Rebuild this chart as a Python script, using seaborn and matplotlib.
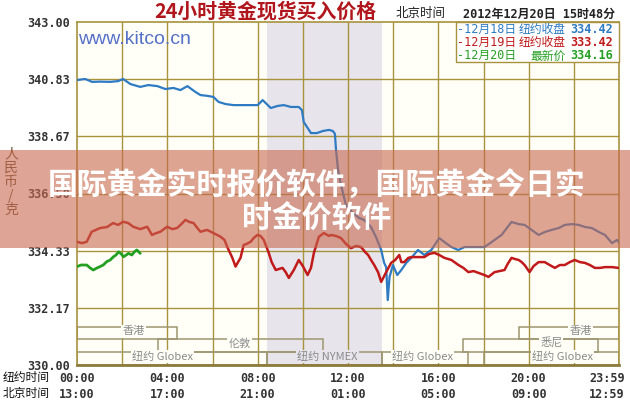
import matplotlib
matplotlib.use("Agg")
import matplotlib.pyplot as plt
from matplotlib.patches import Rectangle
import seaborn as sns

# ---------------- data ----------------
# hours (New York time) and prices (RMB / gram)
blue_hours = [0, 0.36, 0.67, 1.02, 1.47, 1.82, 2.04, 2.36, 2.8, 3.16, 3.56, 3.91, 4.27, 4.58, 4.89,
              5.24, 5.47, 5.78, 6.04, 6.27, 6.58, 6.93, 7.47, 8.0, 8.22, 8.4, 8.58, 8.89, 9.16, 9.47,
              9.82, 9.96, 10.04, 10.36, 10.62, 10.89, 11.16, 11.33, 11.42, 11.47, 11.56, 11.69, 11.91,
              12.22, 12.49, 12.71, 13.02, 13.24, 13.47, 13.6, 13.69, 13.76, 13.84, 13.99, 14.18, 14.36,
              14.58, 14.8, 15.1, 15.38, 15.69, 16.04, 16.27, 16.58, 16.88, 17.16, 18.04, 18.36, 18.8,
              19.24, 19.56, 19.82, 20.13, 20.44, 20.71, 21.02, 21.33, 21.6, 21.91, 22.22, 22.49, 22.8,
              23.11, 23.38, 23.69, 23.91, 23.98]
blue_values = [340.80, 340.84, 340.73, 340.74, 340.73, 340.76, 340.84, 340.65, 340.54, 340.61, 340.57,
               340.46, 340.50, 340.42, 340.57, 340.35, 340.23, 340.20, 340.16, 339.97, 339.89, 339.85,
               339.85, 339.85, 340.04, 339.89, 339.74, 339.82, 339.85, 339.78, 339.78, 339.66, 339.21,
               338.79, 338.79, 338.87, 338.91, 338.87, 338.76, 338.15, 337.39, 336.82, 336.06, 335.76,
               335.57, 335.50, 335.23, 334.85, 334.36, 333.87, 333.71, 332.46, 333.34, 333.79, 333.41,
               333.60, 333.87, 334.06, 334.36, 334.17, 334.36, 334.81, 334.66, 334.47, 334.36, 334.47,
               334.47, 334.66, 334.93, 335.42, 335.34, 335.31, 335.12, 334.93, 335.04, 335.12, 335.19,
               335.31, 335.34, 335.31, 335.23, 335.19, 335.04, 334.93, 334.62, 334.74, 334.66]

red_hours = [0, 0.22, 0.43, 0.65, 1.02, 1.33, 1.6, 1.82, 2.04, 2.27, 2.49, 2.8, 3.11, 3.32, 3.51, 3.69,
             3.99, 4.22, 4.43, 4.62, 4.8, 4.98, 5.16, 5.33, 5.47, 5.76, 6.04, 6.36, 6.53, 6.65, 6.88,
             7.02, 7.11, 7.24, 7.38, 7.51, 7.69, 7.82, 7.99, 8.13, 8.27, 8.49, 8.62, 8.8, 9.1, 9.24,
             9.38, 9.6, 9.82, 10.0, 10.21, 10.36, 10.49, 10.71, 10.93, 11.16, 11.24, 11.47, 11.69,
             11.91, 12.13, 12.36, 12.58, 12.76, 12.89, 13.02, 13.16, 13.33, 13.47, 13.6, 13.69, 13.91,
             14.09, 14.27, 14.36, 14.49, 14.67, 14.8, 15.07, 15.38, 15.6, 15.82, 16.04, 16.27, 16.58,
             16.89, 17.11, 17.33, 17.56, 17.78, 18.04, 18.22, 18.49, 18.71, 18.93, 19.07, 19.24, 19.38,
             19.56, 19.69, 19.82, 20.04, 20.22, 20.44, 20.71, 20.93, 21.16, 21.38, 21.6, 21.82, 22.04,
             22.27, 22.49, 22.71, 22.93, 23.16, 23.38, 23.69, 23.98]
red_values = [334.67, 334.62, 334.67, 335.05, 335.19, 335.23, 335.38, 335.31, 335.43, 335.38, 335.24,
              335.15, 335.24, 334.93, 335.00, 335.05, 335.24, 335.15, 335.19, 335.34, 335.50, 335.42,
              335.38, 335.19, 335.05, 335.12, 335.00, 334.86, 334.74, 334.48, 334.06, 333.73, 333.87,
              334.06, 334.55, 334.59, 334.67, 334.81, 334.93, 334.89, 334.74, 334.25, 333.90, 333.60,
              333.68, 333.52, 333.30, 333.60, 333.98, 333.75, 333.41, 333.68, 334.25, 334.86, 335.00,
              334.89, 334.93, 334.89, 334.81, 334.59, 334.43, 334.51, 334.47, 334.28, 334.17, 333.98,
              333.79, 333.52, 333.15, 333.37, 333.52, 333.87, 333.98, 334.17, 333.90, 333.90, 334.06,
              334.09, 334.09, 334.09, 334.21, 334.25, 334.17, 334.06, 333.98, 333.79, 333.68, 333.52,
              333.56, 333.49, 333.41, 333.34, 333.52, 333.56, 333.60, 333.83, 334.06, 334.02, 333.98,
              333.90, 333.79, 333.52, 333.75, 333.90, 333.90, 333.79, 333.68, 333.79, 333.79, 333.90,
              333.98, 333.90, 333.87, 333.79, 333.68, 333.68, 333.71, 333.71, 333.68]

green_hours = [0, 0.18, 0.43, 0.58, 0.72, 0.89, 1.02, 1.16, 1.32, 1.47, 1.61, 1.73, 1.84, 1.96, 2.06,
               2.18, 2.28, 2.43, 2.53, 2.65, 2.8]
green_values = [333.73, 333.79, 333.79, 333.68, 333.60, 333.68, 333.73, 333.79, 333.92, 333.98, 334.10,
                334.17, 334.29, 334.21, 334.10, 334.17, 334.23, 334.17, 334.28, 334.36, 334.23]

y_ticks = [330.00, 332.17, 334.33, 336.50, 338.67, 340.83, 343.00]
y_tick_labels = ["330.00", "332.17", "334.33", "336.50", "338.67", "340.83", "343.00"]
x_ticks = [0, 4, 8, 12, 16, 20, 23.47]
ny_time_labels = ["00:00", "04:00", "08:00", "12:00", "16:00", "20:00", "23:59"]
bj_time_labels = ["13:00", "17:00", "21:00", "01:00", "05:00", "09:00", "12:59"]

# trading sessions
session_names = ["香港", "伦敦", "纽约 Globex", "纽约 NYMEX", "纽约 Globex", "悉尼", "纽约 Globex", "香港"]
session_start = [0, 3.6, 0, 8.4, 13.5, 17.1, 18.0, 19.55]
session_end = [4.43, 10.9, 8.4, 13.5, 17.3, 23.05, 24, 24]
session_row = [0, 1, 2, 2, 2, 1, 2, 0]
session_label_x = [2.5, 7.2, 3.8, 11.1, 15.3, 21.0, 21.5, 22.3]
row_bottom = [331.0, 330.51, 330.0]
row_top = [331.45, 331.0, 330.51]

legend_dates = ["-12月18日", "-12月19日", "-12月20日"]
legend_kinds = ["纽约收盘", "纽约收盘", "最新价"]
legend_values = ["334.42", "333.42", "334.16"]

# ---------------- style ----------------
sns.set_style("white")
plt.rcParams["font.family"] = ["DejaVu Sans", "Noto Sans CJK SC"]
CJK = ["Noto Sans CJK SC", "DejaVu Sans"]
MONO = ["DejaVu Sans Mono", "Noto Sans CJK SC"]

BLUE = "#2E7BC4"
RED = "#C01A1A"
GREEN = "#23A021"
GRID = "#A8923C"
BG = "#FFFFF8"
SHADE = "#E7E5EB"

W, H = 630, 400
fig = plt.figure(figsize=(6.3, 4.0), dpi=100)
fig.patch.set_facecolor("white")
ax = fig.add_axes([77 / W, 35 / H, 542 / W, 343 / H])
ax.set_facecolor(BG)
ax.set_xlim(0, 24)
ax.set_ylim(330, 343)

ax.axvspan(session_start[3], session_end[3], color=SHADE, zorder=0, lw=0)

for h in range(2, 24, 2):
    ax.axvline(h, color=GRID, lw=1.0, zorder=1)
for v in y_ticks[1:-1]:
    ax.axhline(v, color=GRID, lw=1.0, zorder=1)

# session boxes
for name, s, e, r, lx in zip(session_names, session_start, session_end, session_row, session_label_x):
    ax.add_patch(Rectangle((s, row_bottom[r]), e - s, row_top[r] - row_bottom[r],
                           fill=False, edgecolor="#9E9670", lw=1.1, zorder=2))
    bg = SHADE if session_start[3] <= lx <= session_end[3] else BG
    ax.text(lx, row_top[r] + 0.02, name, ha="center", va="top", fontsize=8, color="#8A8A8A",
            family=CJK, zorder=3, bbox=dict(boxstyle="square,pad=0.1", fc=bg, ec="none"))

sns.lineplot(x=blue_hours, y=blue_values, ax=ax, color=BLUE, lw=1.6, estimator=None, zorder=4)
sns.lineplot(x=red_hours, y=red_values, ax=ax, color=RED, lw=1.8, estimator=None, zorder=5)
sns.lineplot(x=green_hours, y=green_values, ax=ax, color=GREEN, lw=2.0, estimator=None, zorder=6)

ax.set_yticks(y_ticks)
ax.set_yticklabels(y_tick_labels, family=MONO, fontweight="bold", fontsize=8.5, color="#333333")
ax.set_xticks(x_ticks)
ax.set_xticklabels([f"{a}\n{b}" for a, b in zip(ny_time_labels, bj_time_labels)],
                   family=MONO, fontweight="bold", fontsize=8.5, color="#333333", linespacing=1.3)
ax.tick_params(axis="both", length=0)
ax.tick_params(axis="x", pad=5)
ax.tick_params(axis="y", pad=5)
ax.set_xlabel("")
ax.set_ylabel("")
for side in ["top", "right", "left"]:
    ax.spines[side].set_color(GRID)
    ax.spines[side].set_linewidth(1.2)
ax.spines["bottom"].set_color("#8C7B3A")
ax.spines["bottom"].set_linewidth(2.0)

def fx(px):
    return px / W

def fy(py):
    return 1 - py / H

# header texts
fig.text(fx(265), fy(11), "24小时黄金现货买入价格", ha="center", va="center", fontsize=14.3,
         fontweight="bold", color="#B0161B", family=CJK)
fig.text(fx(396), fy(14), "北京时间", ha="left", va="center", fontsize=9, color="#222222", family=CJK)
fig.text(fx(463), fy(14), "2012年12月20日 15时48分", ha="left", va="center", fontsize=8.6,
         fontweight="bold", color="#222222", family=MONO)
fig.text(fx(78), fy(40), "www.kitco.cn", ha="left", va="center", fontsize=14, color="#5570C8",
         family=["Liberation Sans", "DejaVu Sans"])

# y label
fig.text(fx(11), fy(182), "人\n民\n币\n/\n克", ha="center", va="center", fontsize=10,
         color="#6B5030", family=CJK, linespacing=1.0)

# x row headers
fig.text(fx(3), fy(378), "纽约时间", ha="left", va="center", fontsize=8.5, color="#111111", family=CJK)
fig.text(fx(3), fy(393), "北京时间", ha="left", va="center", fontsize=8.5, color="#111111", family=CJK)

# legend box
fig.add_artist(Rectangle((fx(456), fy(62)), (619 - 456) / W, 40 / H, transform=fig.transFigure,
                         facecolor="white", edgecolor=GRID, lw=1.0, zorder=5))
for i, (d, k, v, c) in enumerate(zip(legend_dates, legend_kinds, legend_values, [BLUE, RED, GREEN])):
    yy = fy(29.5 + 13.2 * i)
    fig.text(fx(457), yy, d, ha="left", va="center", fontsize=8.5, color=c, family=MONO, zorder=6)
    fig.text(fx(566), yy, k, ha="right", va="center", fontsize=8.5, color=c, family=CJK, zorder=6)
    fig.text(fx(570), yy, v, ha="left", va="center", fontsize=8.5, color=c, family=MONO,
             fontweight="bold", zorder=6)

# overlay banner
fig.add_artist(Rectangle((0, fy(248)), 1, 98 / H, transform=fig.transFigure,
                         facecolor="#C8684F", alpha=0.6, lw=0, zorder=10))
fig.text(0.502, fy(186), "国际黄金实时报价软件，国际黄金今日实", ha="center", va="center",
         fontsize=21.5, fontweight="bold", color="white", family=CJK, zorder=11)
fig.text(0.502, fy(219), "时金价软件", ha="center", va="center",
         fontsize=21.5, fontweight="bold", color="white", family=CJK, zorder=11)

fig.savefig("out.png", dpi=100, facecolor="white")
